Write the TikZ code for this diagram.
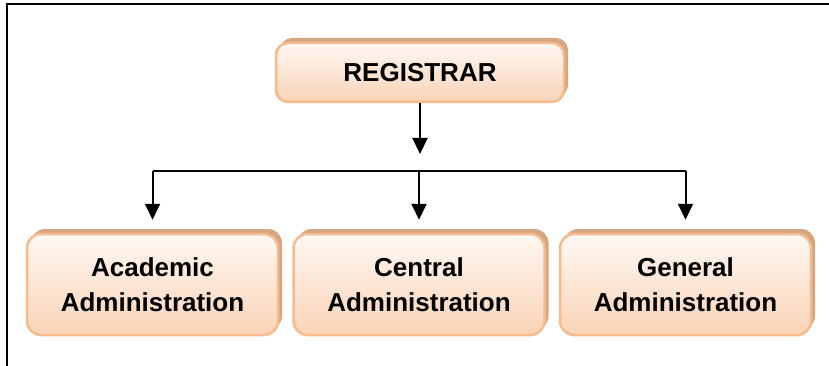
\documentclass[tikz,border=0pt]{standalone}
\usepackage{fontspec}
\setmainfont{Liberation Sans}
\usetikzlibrary{arrows.meta,
positioning,
shadows}

\definecolor{peachtop}{RGB}{255,248,243}
\definecolor{peachbottom}{RGB}{249,211,182}
\definecolor{peachline}{RGB}{246,187,140}
\definecolor{shadowtan}{RGB}{214,166,128}

\tikzset{
	officebox/.style={
		rounded corners=14pt,
		draw=peachline,
		line width=2.5pt,
		top color=peachtop,
		bottom color=peachbottom,
		drop shadow={shadow xshift=4pt, shadow yshift=5pt, fill=shadowtan, opacity=1},
		align=center,
		font=\fontsize{26}{35}\selectfont\bfseries
	},
	link/.style={line width=2pt, draw=black},
	linkarrow/.style={link, -{Triangle[length=16pt,width=15pt]}}
}

\begin{document}
\begin{tikzpicture}[
				x=1pt, y=-1pt,
				node distance=13pt
			]
				\useasboundingbox (0,0) rectangle (829,366);
				% frame
				\draw[line width=1.6pt] (7,366) -- (7,4) -- (829,4);

				\node [officebox, minimum width=288pt, minimum height=59pt, rounded corners=12pt] (registrar) at (420,72.5) {REGISTRAR};
				\node [officebox, minimum width=251pt, minimum height=101pt] (central) at (419,284.5) {Central\\Administration};
				\node [officebox, minimum width=251pt, minimum height=101pt, left=of central] (academic) {Academic\\Administration};
				\node [officebox, minimum width=251pt, minimum height=101pt, right=of central] (general) {General\\Administration};

				\coordinate (hub) at (420,154);
				\coordinate (bar) at (0,171);

				\draw[linkarrow] (registrar.south) -- (hub);
				\draw[link] (academic.north |- bar) -- (general.north |- bar);
				\draw[linkarrow, shorten >=13pt] (academic.north |- bar) -- (academic.north);
				\draw[linkarrow, shorten >=13pt] (central.north |- bar) -- (central.north);
				\draw[linkarrow, shorten >=13pt] (general.north |- bar) -- (general.north);
			\end{tikzpicture}
\end{document}
